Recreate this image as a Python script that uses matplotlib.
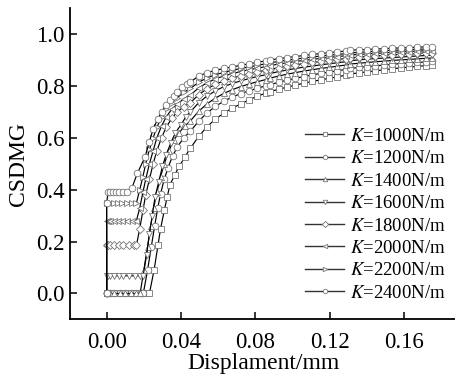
import matplotlib
matplotlib.use("Agg")
import matplotlib.pyplot as plt

plt.rcParams['font.family'] = ['Liberation Serif', 'DejaVu Serif']
plt.rcParams['mathtext.fontset'] = 'stix'

# stiffness labels and markers
stiffness = [1000, 1200, 1400, 1600, 1800, 2000, 2200, 2400]
markers = ['s', 'o', '^', 'v', 'D', '<', '>', 'o']

# shared x grid for the slowly rising tail of every curve (mm)
tail_x = [0.045, 0.0495, 0.054, 0.0585, 0.063, 0.0675, 0.072, 0.0765, 0.081, 0.0855,
          0.088, 0.0925, 0.097, 0.1015, 0.106, 0.1105, 0.115, 0.1195, 0.124, 0.1285,
          0.131, 0.1355, 0.140, 0.1445, 0.149, 0.1535, 0.158, 0.1625, 0.167, 0.1715, 0.175]

# start of each curve: plateau and steep rise (x in mm, y = CSDMG)
head_x = {
    1000: [0, 0.002, 0.004, 0.007, 0.010, 0.013, 0.016, 0.019, 0.021, 0.023,
           0.0255, 0.0276, 0.029, 0.031, 0.0325, 0.034, 0.0365, 0.039, 0.042],
    1200: [0, 0.002, 0.004, 0.007, 0.010, 0.013, 0.016, 0.0185, 0.0197,
           0.022, 0.024, 0.0258, 0.0275, 0.029, 0.031, 0.033, 0.0355, 0.038, 0.0415],
    1400: [0, 0.002, 0.004, 0.007, 0.010, 0.013, 0.016, 0.018,
           0.020, 0.022, 0.0237, 0.0253, 0.027, 0.029, 0.031, 0.0335, 0.036, 0.039, 0.042],
    1600: [0, 0, 0.0005, 0.002, 0.004, 0.0065, 0.009, 0.012, 0.015, 0.0178, 0.0196,
           0.0215, 0.023, 0.0245, 0.026, 0.028, 0.030, 0.032, 0.0345, 0.037, 0.040, 0.0425],
    1800: [0, 0, 0.0005, 0.002, 0.004, 0.0065, 0.009, 0.0118, 0.0145, 0.016,
           0.0178, 0.0195, 0.021, 0.023, 0.025, 0.027, 0.0295, 0.032, 0.035, 0.038, 0.0415],
    2000: [0, 0, 0.0005, 0.002, 0.004, 0.006, 0.0085, 0.011, 0.0135, 0.016,
           0.0178, 0.0195, 0.021, 0.023, 0.025, 0.027, 0.0295, 0.032, 0.035, 0.038, 0.0415],
    2200: [0, 0, 0.0005, 0.002, 0.004, 0.006, 0.0085, 0.011, 0.0135, 0.016,
           0.0178, 0.0195, 0.021, 0.023, 0.025, 0.027, 0.0295, 0.032, 0.035, 0.038, 0.0415],
    2400: [0, 0, 0.0008, 0.002, 0.0035, 0.005, 0.0068, 0.0088, 0.011, 0.0135,
           0.0165, 0.0206, 0.023, 0.025, 0.0275, 0.0297, 0.032, 0.034, 0.036, 0.038, 0.0405, 0.043],
}
head_y = {
    1000: [0, 0, 0, 0, 0, 0, 0, 0, 0, 0,
           0.09, 0.186, 0.25, 0.32, 0.37, 0.418, 0.455, 0.49, 0.525],
    1200: [0, 0, 0, 0, 0, 0, 0, 0, 0,
           0.09, 0.18, 0.26, 0.33, 0.385, 0.44, 0.485, 0.53, 0.565, 0.60],
    1400: [0, 0, 0, 0, 0, 0, 0, 0,
           0.09, 0.18, 0.26, 0.33, 0.39, 0.45, 0.50, 0.55, 0.59, 0.62, 0.645],
    1600: [0, 0.068, 0.068, 0.068, 0.068, 0.068, 0.068, 0.068, 0.068, 0.068, 0.068,
           0.15, 0.23, 0.30, 0.37, 0.43, 0.49, 0.535, 0.58, 0.62, 0.65, 0.68],
    1800: [0, 0.185, 0.185, 0.185, 0.185, 0.185, 0.185, 0.185, 0.185, 0.185,
           0.25, 0.32, 0.38, 0.44, 0.50, 0.55, 0.60, 0.64, 0.675, 0.70, 0.72],
    2000: [0, 0.28, 0.28, 0.28, 0.28, 0.28, 0.28, 0.28, 0.28, 0.28,
           0.33, 0.39, 0.44, 0.50, 0.55, 0.60, 0.645, 0.68, 0.71, 0.73, 0.75],
    2200: [0, 0.348, 0.348, 0.348, 0.348, 0.348, 0.348, 0.348, 0.348, 0.348,
           0.40, 0.45, 0.50, 0.555, 0.60, 0.64, 0.68, 0.71, 0.735, 0.755, 0.775],
    2400: [0, 0.35, 0.39, 0.39, 0.39, 0.39, 0.39, 0.39, 0.392, 0.405,
           0.463, 0.525, 0.585, 0.635, 0.672, 0.70, 0.725, 0.745, 0.762, 0.776, 0.795, 0.806],
}
tail_y = {
    1000: [0.56, 0.605, 0.643, 0.672, 0.695, 0.714, 0.730, 0.746, 0.760, 0.772, 0.778,
           0.787, 0.795, 0.803, 0.810, 0.817, 0.823, 0.829, 0.835, 0.841, 0.846,
           0.850, 0.854, 0.858, 0.862, 0.866, 0.869, 0.872, 0.875, 0.878, 0.880],
    1200: [0.625, 0.664, 0.696, 0.721, 0.741, 0.757, 0.770, 0.781, 0.791, 0.800, 0.805,
           0.814, 0.822, 0.829, 0.836, 0.842, 0.848, 0.853, 0.858, 0.863, 0.867,
           0.871, 0.874, 0.877, 0.880, 0.883, 0.886, 0.888, 0.890, 0.892, 0.894],
    1400: [0.665, 0.702, 0.731, 0.753, 0.771, 0.785, 0.797, 0.807, 0.816, 0.824, 0.830,
           0.838, 0.845, 0.851, 0.857, 0.862, 0.867, 0.871, 0.876, 0.880, 0.884,
           0.887, 0.890, 0.893, 0.895, 0.898, 0.900, 0.902, 0.904, 0.906, 0.907],
    1600: [0.70, 0.735, 0.761, 0.781, 0.797, 0.809, 0.819, 0.828, 0.836, 0.843, 0.848,
           0.855, 0.861, 0.867, 0.872, 0.876, 0.881, 0.885, 0.889, 0.893, 0.897,
           0.900, 0.903, 0.905, 0.907, 0.909, 0.911, 0.913, 0.915, 0.917, 0.918],
    1800: [0.735, 0.766, 0.789, 0.806, 0.819, 0.830, 0.839, 0.847, 0.854, 0.860, 0.864,
           0.870, 0.876, 0.881, 0.886, 0.890, 0.894, 0.898, 0.902, 0.905, 0.908,
           0.911, 0.913, 0.915, 0.918, 0.920, 0.922, 0.924, 0.925, 0.927, 0.928],
    2000: [0.765, 0.792, 0.812, 0.827, 0.838, 0.847, 0.855, 0.862, 0.868, 0.874, 0.878,
           0.884, 0.889, 0.894, 0.898, 0.902, 0.906, 0.910, 0.913, 0.916, 0.919,
           0.921, 0.923, 0.925, 0.927, 0.929, 0.931, 0.932, 0.934, 0.935, 0.936],
    2200: [0.79, 0.814, 0.831, 0.843, 0.852, 0.860, 0.867, 0.873, 0.879, 0.885, 0.889,
           0.894, 0.899, 0.903, 0.907, 0.911, 0.915, 0.918, 0.921, 0.924, 0.927,
           0.929, 0.931, 0.933, 0.935, 0.937, 0.938, 0.939, 0.941, 0.942, 0.943],
    2400: [0.815, 0.838, 0.851, 0.860, 0.867, 0.873, 0.879, 0.885, 0.891, 0.896, 0.900,
           0.905, 0.909, 0.913, 0.917, 0.921, 0.924, 0.928, 0.931, 0.934, 0.937,
           0.939, 0.940, 0.942, 0.943, 0.945, 0.946, 0.947, 0.949, 0.950, 0.951],
}

x_ticks = [0.00, 0.04, 0.08, 0.12, 0.16]
y_ticks = [0.0, 0.2, 0.4, 0.6, 0.8, 1.0]

fig = plt.figure(figsize=(4.56, 3.74), dpi=100)
ax = fig.add_axes([0.1535, 0.146, 0.8465, 0.8326])

sizes = {'s': 4.2, 'o': 4.8, '^': 4.8, 'v': 4.8, 'D': 3.8, '<': 4.8, '>': 4.8}
for k, m in zip(stiffness, markers):
    xs = head_x[k] + tail_x
    ys = head_y[k] + tail_y[k]
    ax.plot(xs, ys, color='black', lw=0.85, marker=m, ms=sizes[m],
            mfc='white', mec='#6a6a6a', mew=0.55)

# legend uses small markers like the original
handles = []
for k, m in zip(stiffness, markers):
    h, = ax.plot([], [], color='#333333', lw=1.0, marker=m, ms=3.2,
                 mfc='white', mec='#777777', mew=0.6,
                 label=r'$\mathit{K}$=%dN/m' % k)
    handles.append(h)
ax.legend(handles=handles, loc='upper left', bbox_to_anchor=(0.609, 0.615),
          frameon=False, fontsize=13.5, handlelength=2.1, handletextpad=0.3,
          labelspacing=0.28, borderpad=0, borderaxespad=0)

ax.set_xlim(-0.0197, 0.1878)
ax.set_ylim(-0.1, 1.1)
ax.set_xticks(x_ticks)
ax.set_xticklabels(['%.2f' % v for v in x_ticks])
ax.set_yticks(y_ticks)
ax.set_yticklabels(['%.1f' % v for v in y_ticks])
ax.tick_params(direction='in', length=5, width=1.1, labelsize=16.5)
ax.tick_params(axis='x', pad=9)
ax.tick_params(axis='y', pad=4)

for s in ['top', 'right']:
    ax.spines[s].set_visible(False)
for s in ['left', 'bottom']:
    ax.spines[s].set_linewidth(1.3)

ax.set_xlabel('Displament/mm', fontsize=17, labelpad=0)
ax.set_ylabel('CSDMG', fontsize=17, labelpad=5)

fig.savefig('out.png', dpi=100)
